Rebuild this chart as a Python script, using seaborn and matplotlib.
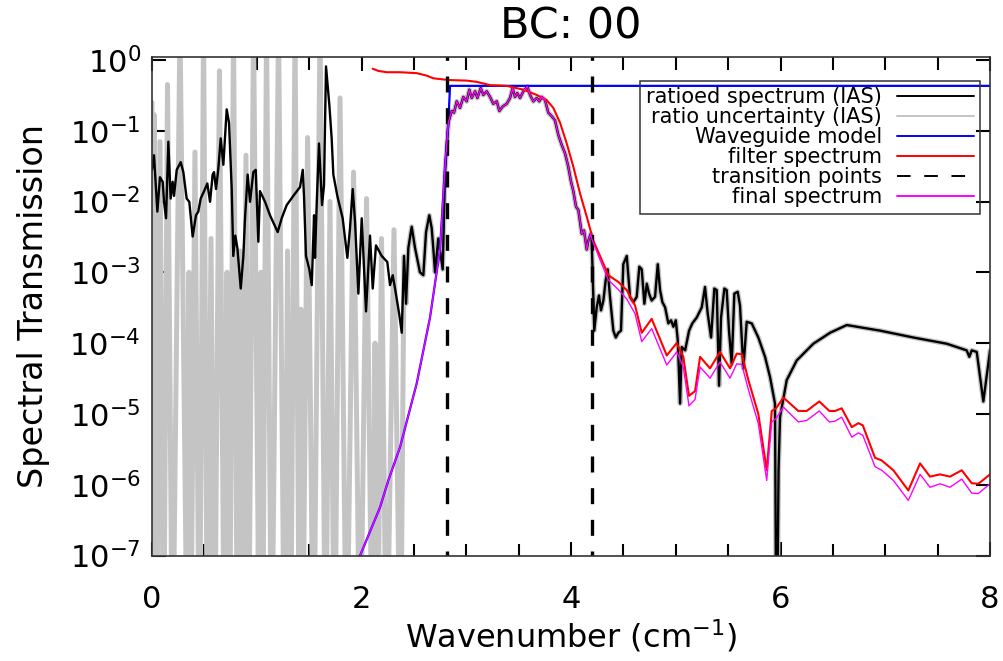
import matplotlib
matplotlib.use("Agg")
import numpy as np
import pandas as pd
import matplotlib.pyplot as plt
import seaborn as sns
from matplotlib.lines import Line2D
from matplotlib.ticker import MultipleLocator, LogLocator, NullLocator

# ---------------- data ----------------
# ratioed spectrum (IAS), below first transition point
ratio_left_x = [0.000, 0.019, 0.051, 0.076, 0.102, 0.115, 0.134, 0.156, 0.178, 0.197,
                0.210, 0.236, 0.274, 0.299, 0.331, 0.356, 0.388, 0.420, 0.442, 0.465,
                0.506, 0.528, 0.554, 0.579, 0.592, 0.611, 0.633, 0.656, 0.681, 0.713,
                0.735, 0.761, 0.776, 0.795, 0.815, 0.847, 0.872, 0.888, 0.913, 0.936,
                0.967, 0.990, 1.015, 1.031, 1.079, 1.126, 1.200, 1.238, 1.286, 1.349,
                1.413, 1.439, 1.451, 1.470, 1.502, 1.525, 1.547, 1.556, 1.572, 1.594,
                1.623, 1.642, 1.661, 1.693, 1.715, 1.731, 1.769, 1.820, 1.865, 1.890,
                1.916, 1.938, 1.970, 2.002, 2.043, 2.081, 2.107, 2.138, 2.193, 2.246,
                2.272, 2.298, 2.320, 2.361, 2.384, 2.406, 2.425, 2.447, 2.479, 2.511,
                2.558, 2.590, 2.616, 2.647, 2.670, 2.685, 2.702, 2.733, 2.775, 2.797]
ratio_left_y = [2.8e-2, 4.5e-2, 7.2e-3, 2.2e-2, 1.9e-2, 9.9e-3, 5.8e-3, 7.0e-2, 1.1e-2, 1.9e-2,
                1.2e-2, 2.8e-2, 3.6e-2, 2.6e-2, 1.1e-2, 9.9e-3, 3.2e-3, 6.4e-3, 7.2e-3, 1.1e-2,
                1.5e-2, 1.8e-2, 9.9e-3, 2.4e-2, 2.6e-2, 1.5e-2, 2.9e-2, 7.8e-2, 3.3e-2, 2.0e-1,
                1.3e-1, 1.5e-2, 1.7e-3, 3.3e-3, 2.2e-3, 5.9e-4, 1.7e-3, 5.8e-3, 2.4e-2, 9.9e-3,
                2.6e-2, 2.8e-2, 2.7e-3, 1.4e-2, 9.9e-3, 6.4e-3, 3.7e-3, 5.8e-3, 8.9e-3, 1.2e-2,
                1.6e-2, 2.8e-2, 1.2e-2, 1.7e-3, 1.1e-3, 6.6e-4, 6.4e-3, 1.6e-3, 8.9e-3, 6.6e-2,
                8.9e-3, 1.7e-2, 8.1e-1, 2.3e-1, 7.8e-2, 2.4e-2, 1.2e-2, 5.8e-3, 1.6e-3, 4.2e-3,
                1.5e-2, 5.2e-3, 5.0e-4, 5.8e-3, 2.8e-4, 3.3e-3, 5.9e-4, 2.4e-3, 1.7e-3, 1.4e-3,
                6.6e-4, 9.1e-4, 5.9e-4, 2.5e-4, 1.4e-4, 1.7e-3, 3.6e-4, 2.2e-3, 4.4e-3, 2.2e-3,
                1.0e-3, 9.1e-4, 3.7e-3, 6.4e-3, 4.2e-3, 2.2e-3, 1.0e-3, 3.0e-3, 1.1e-3, 2.6e-2]

# pass band between the two transition points (ratioed = final spectrum here)
band_x = [2.829, 2.861, 2.883, 2.909, 2.940, 2.972, 3.004, 3.029, 3.052, 3.084,
          3.106, 3.138, 3.163, 3.195, 3.227, 3.258, 3.291, 3.316, 3.348, 3.386,
          3.418, 3.443, 3.465, 3.487, 3.513, 3.545, 3.583, 3.609, 3.640, 3.673,
          3.697, 3.720, 3.752, 3.783, 3.816, 3.847, 3.879, 3.911, 3.943, 3.974,
          3.997, 4.022, 4.048, 4.070, 4.102, 4.124, 4.150, 4.165, 4.188]
band_y = [1.3e-1, 1.9e-1, 1.8e-1, 2.6e-1, 2.1e-1, 3.0e-1, 2.6e-1, 3.8e-1, 2.9e-1, 3.6e-1,
          2.9e-1, 4.0e-1, 3.2e-1, 3.6e-1, 3.0e-1, 2.4e-1, 2.6e-1, 1.9e-1, 2.2e-1, 2.4e-1,
          2.9e-1, 4.0e-1, 3.0e-1, 3.4e-1, 2.9e-1, 3.6e-1, 4.2e-1, 3.2e-1, 2.6e-1, 2.9e-1,
          2.6e-1, 3.0e-1, 2.7e-1, 1.8e-1, 1.6e-1, 1.4e-1, 8.7e-2, 6.3e-2, 4.8e-2, 3.1e-2,
          2.0e-2, 1.4e-2, 8.4e-3, 7.6e-3, 3.5e-3, 3.9e-3, 2.1e-3, 2.8e-3, 3.5e-3]

# ratioed spectrum above second transition point
ratio_right_x = [4.197, 4.222, 4.245, 4.267, 4.286, 4.309, 4.331, 4.350, 4.372, 4.404,
                 4.427, 4.452, 4.477, 4.499, 4.532, 4.563, 4.595, 4.627, 4.652, 4.675,
                 4.700, 4.723, 4.745, 4.770, 4.802, 4.828, 4.850, 4.872, 4.898, 4.929,
                 4.955, 4.977, 5.000, 5.019, 5.041, 5.057, 5.089, 5.127, 5.158, 5.200,
                 5.248, 5.279, 5.305, 5.337, 5.368, 5.391, 5.413, 5.432, 5.464, 5.486,
                 5.508, 5.534, 5.559, 5.591, 5.613, 5.645, 5.677, 5.725, 5.788, 5.852,
                 5.900, 5.947, 5.962, 5.981, 5.995, 6.059, 6.155, 6.313, 6.473, 6.632,
                 6.950, 7.268, 7.587, 7.777, 7.802, 7.825, 7.873, 7.936, 8.000]
ratio_right_y = [3.0e-3, 1.5e-4, 3.2e-4, 4.7e-4, 2.9e-4, 4.0e-4, 7.7e-4, 1.1e-3, 4.5e-4, 1.5e-4,
                 1.2e-4, 1.4e-4, 1.5e-4, 1.3e-3, 1.7e-3, 4.5e-4, 3.8e-4, 4.5e-4, 1.2e-3, 1.1e-3,
                 3.6e-4, 6.9e-4, 5.0e-4, 4.0e-4, 4.5e-4, 1.3e-3, 5.6e-4, 3.8e-4, 3.2e-4, 1.9e-4,
                 2.1e-4, 1.7e-4, 2.1e-4, 1.1e-4, 1.4e-5, 8.8e-5, 7.9e-5, 1.5e-4, 1.9e-4, 2.3e-4,
                 3.2e-4, 6.2e-4, 2.6e-4, 1.2e-4, 5.9e-4, 5.6e-4, 2.5e-5, 2.3e-4, 5.9e-4, 5.6e-4,
                 1.5e-4, 5.1e-5, 5.0e-4, 5.3e-4, 3.4e-4, 4.4e-5, 2.0e-4, 1.9e-4, 1.2e-4, 6.4e-5,
                 3.3e-5, 1.4e-5, 1.0e-9, 1.6e-6, 9.0e-6, 3.0e-5, 5.7e-5, 9.8e-5, 1.4e-4, 1.8e-4,
                 1.5e-4, 1.2e-4, 9.8e-5, 7.9e-5, 6.4e-5, 7.9e-5, 7.5e-5, 1.5e-5, 7.9e-5]

# ratio uncertainty (IAS) in the noisy low-wavenumber region (troughs fall below the axis)
unc_left_x = [0.000, 0.005, 0.019, 0.043, 0.076, 0.110, 0.148, 0.196, 0.267, 0.339,
              0.353, 0.368, 0.410, 0.453, 0.492, 0.530, 0.563, 0.597, 0.644, 0.692,
              0.716, 0.740, 0.778, 0.816, 0.840, 0.864, 0.897, 0.921, 0.969, 1.026,
              1.041, 1.055, 1.093, 1.141, 1.208, 1.265, 1.294, 1.322, 1.365, 1.408,
              1.422, 1.437, 1.485, 1.542, 1.604, 1.656, 1.699, 1.742, 1.795, 1.857,
              1.924, 1.986, 2.048, 2.105, 2.129, 2.153, 2.191, 2.239, 2.310, 2.372]
unc_left_y = [2.5e-1, 1e-9, 1.7e-1, 1e-9, 7.0e-2, 1e-9, 4.5e-1, 1e-9, 3.0, 1e-9,
              1.0e-3, 1e-9, 5.0e-2, 1e-9, 3.0, 1e-9, 3.0e-3, 1e-9, 7.0e-1, 1e-9,
              1.0e-3, 1e-9, 3.0, 1e-9, 2.0e-3, 1e-9, 4.5e-2, 1e-9, 3.0, 1e-9,
              1.0e-3, 1e-9, 3.0, 1e-9, 3.0, 1e-9, 2.0e-3, 1e-9, 3.0, 1e-9,
              3.0e-4, 1e-9, 8.0e-2, 1e-9, 3.0, 1e-9, 1.0e-2, 1e-9, 2.9e-1, 1e-9,
              2.6e-2, 1e-9, 1.1e-2, 1e-9, 1.0e-4, 1e-9, 3.0e-3, 1e-9, 4.0e-3, 1e-9]

# filter spectrum
filter_x = [2.107, 2.160, 2.241, 2.368, 2.527, 2.622, 2.685, 2.829, 3.004, 3.100,
            3.227, 3.386, 3.545, 3.673, 3.768, 3.831, 3.895, 3.959, 4.022, 4.086,
            4.150, 4.213, 4.277, 4.356, 4.452, 4.532, 4.611, 4.675, 4.770, 4.914,
            5.009, 5.072, 5.126, 5.184, 5.232, 5.327, 5.422, 5.518, 5.582, 5.630,
            5.693, 5.788, 5.868, 5.916, 5.957, 6.027, 6.170, 6.250, 6.370, 6.466,
            6.520, 6.584, 6.680, 6.743, 6.785, 6.902, 6.966, 7.077, 7.220, 7.332,
            7.427, 7.523, 7.618, 7.730, 7.825, 7.888, 8.000]
filter_y = [7.5e-1, 7.0e-1, 6.7e-1, 6.7e-1, 6.5e-1, 6.0e-1, 5.5e-1, 5.2e-1, 5.1e-1, 4.9e-1,
            4.4e-1, 4.3e-1, 3.8e-1, 3.2e-1, 2.7e-1, 2.1e-1, 1.3e-1, 6.6e-2, 3.1e-2, 1.3e-2,
            6.1e-3, 2.8e-3, 1.7e-3, 9.1e-4, 7.3e-4, 5.6e-4, 3.4e-4, 1.4e-4, 2.2e-4, 6.7e-5,
            1.0e-4, 6.4e-5, 1.8e-5, 2.1e-5, 6.4e-5, 4.4e-5, 7.5e-5, 4.4e-5, 7.1e-5, 7.0e-5,
            3.0e-5, 1.0e-5, 1.6e-6, 1.1e-5, 1.2e-5, 1.7e-5, 1.1e-5, 1.1e-5, 1.5e-5, 1.1e-5,
            1.1e-5, 1.2e-5, 6.5e-6, 7.4e-6, 6.9e-6, 2.4e-6, 2.2e-6, 1.6e-6, 8.3e-7, 2.0e-6,
            1.3e-6, 1.4e-6, 1.3e-6, 1.6e-6, 1.05e-6, 1.03e-6, 1.4e-6]

# waveguide model below cutoff (also used by the final spectrum there)
guide_left_x = [1.940, 1.979, 2.177, 2.256, 2.368, 2.527, 2.654, 2.749, 2.797, 2.829]
guide_left_y = [6.9e-8, 9.4e-8, 4.8e-7, 1.15e-6, 3.4e-6, 2.7e-5, 2.3e-4, 2.1e-3, 3.1e-2, 1.3e-1]
guide_top_x = [2.845, 8.000]
guide_top_y = [4.3e-1, 4.3e-1]

# final spectrum above second transition point
final_right_x = [4.197, 4.277, 4.356, 4.452, 4.532, 4.611, 4.675, 4.770, 4.914, 5.009,
                 5.072, 5.126, 5.184, 5.232, 5.327, 5.422, 5.518, 5.582, 5.630, 5.693,
                 5.788, 5.868, 5.916, 5.957, 6.027, 6.170, 6.250, 6.370, 6.466, 6.520,
                 6.584, 6.680, 6.743, 6.785, 6.902, 6.966, 7.077, 7.220, 7.332, 7.427,
                 7.523, 7.618, 7.730, 7.825, 7.888, 8.000]
final_right_y = [3.0e-3, 1.5e-3, 7.8e-4, 5.7e-4, 4.2e-4, 2.6e-4, 1.05e-4, 1.6e-4, 4.9e-5, 7.5e-5,
                 4.6e-5, 1.3e-5, 1.6e-5, 4.6e-5, 3.2e-5, 5.4e-5, 3.2e-5, 5.1e-5, 5.0e-5, 2.2e-5,
                 7.3e-6, 1.15e-6, 7.7e-6, 8.6e-6, 1.25e-5, 7.7e-6, 8.1e-6, 1.1e-5, 7.7e-6, 7.9e-6,
                 9.0e-6, 4.7e-6, 5.4e-6, 5.0e-6, 1.8e-6, 1.6e-6, 1.15e-6, 6.0e-7, 1.4e-6, 9.2e-7,
                 1.03e-6, 9.2e-7, 1.2e-6, 7.6e-7, 7.5e-7, 1.03e-6]

transition_points = [2.816, 4.200]

labels = ["ratioed spectrum (IAS)", "ratio uncertainty (IAS)", "Waveguide model",
          "filter spectrum", "transition points", "final spectrum"]
colors = ["black", "#c4c4c4", "#0000ff", "#ff0000", "black", "#ff00ff"]

# ---------------- assemble series ----------------
ratio_x = ratio_left_x + band_x + ratio_right_x
ratio_y = ratio_left_y + band_y + ratio_right_y
unc_x = unc_left_x + [x for x in ratio_x if x >= 2.40]
unc_y = unc_left_y + [y for x, y in zip(ratio_x, ratio_y) if x >= 2.40]
guide_x = guide_left_x + guide_top_x
guide_y = guide_left_y + guide_top_y
final_x = guide_left_x + band_x[1:] + final_right_x
final_y = guide_left_y + band_y[1:] + final_right_y

# ---------------- style ----------------
sns.set_theme(style="ticks")
frame_col = "#333333"
plt.rcParams.update({
    'font.family': ['DejaVu Sans'],
    'mathtext.fontset': 'dejavusans',
    'text.color': 'black', 'axes.labelcolor': 'black',
    'xtick.labelcolor': 'black', 'ytick.labelcolor': 'black',
})

fig = plt.figure(figsize=(10.04, 6.61), dpi=100)
ax = fig.add_axes([0.1514, 0.1596, 0.8347, 0.7542])
ax.set_yscale('log')

kw = dict(ax=ax, sort=False, estimator=None, legend=False)
sns.lineplot(x=unc_x, y=unc_y, color=colors[1], lw=3.6, **kw)
sns.lineplot(x=ratio_x, y=ratio_y, color=colors[0], lw=1.7, **kw)
sns.lineplot(x=guide_x, y=guide_y, color=colors[2], lw=1.6, **kw)
sns.lineplot(x=filter_x, y=filter_y, color=colors[3], lw=1.5, **kw)
for t in transition_points:
    sns.lineplot(x=[t, t], y=[1e-9, 10.0], color=colors[4], lw=2.4,
                 dashes=False, linestyle=(0, (4.8, 4.7)), **kw)
sns.lineplot(x=final_x, y=final_y, color=colors[5], lw=1.0, **kw)

ax.set_xlim(0, 8)
ax.set_ylim(1e-7, 1.10)
ax.xaxis.set_major_locator(MultipleLocator(2))
ax.xaxis.set_minor_locator(MultipleLocator(0.5))
ax.yaxis.set_major_locator(LogLocator(base=10, numticks=20))
ax.yaxis.set_minor_locator(NullLocator())

for s in ax.spines.values():
    s.set_visible(True)
    s.set_color(frame_col)
    s.set_linewidth(1.2)

# inward ticks on all four sides, IDL style
ax.tick_params(axis='both', which='both', direction='in',
               top=True, right=True, bottom=True, left=True,
               colors='black', width=1.5, labelsize=22)
ax.tick_params(axis='both', which='major', length=10)
ax.tick_params(axis='x', which='minor', length=9)
ax.tick_params(axis='x', which='both', pad=21)
ax.tick_params(axis='y', which='both', pad=8)
for t in ax.xaxis.get_major_ticks() + ax.xaxis.get_minor_ticks() + ax.yaxis.get_major_ticks():
    for ln in (t.tick1line, t.tick2line):
        ln.set_visible(True)
        ln.set_color('#222222')
        ln.set_zorder(10)

ax.set_title("BC: 00", fontsize=31, pad=13, color='black')
ax.set_xlabel("Wavenumber (cm$^{-1}$)", fontsize=23, labelpad=3, color='black')
ax.set_ylabel("Spectral Transmission", fontsize=24, labelpad=14, color='black')

handles = [Line2D([], [], color=colors[0], lw=1.4),
           Line2D([], [], color=colors[1], lw=1.4),
           Line2D([], [], color=colors[2], lw=1.4),
           Line2D([], [], color=colors[3], lw=1.4),
           Line2D([], [], color=colors[4], lw=1.4, linestyle=(0, (7, 7))),
           Line2D([], [], color=colors[5], lw=1.4)]
leg = ax.legend(handles, labels, loc='upper right',
                bbox_to_anchor=(980 / 1004, 1 - 81 / 661),
                bbox_transform=fig.transFigure, borderaxespad=0,
                fontsize=15, markerfirst=False, handlelength=3.7,
                handletextpad=0.7, labelspacing=0.0, borderpad=0.3,
                frameon=True, fancybox=False)
frame = leg.get_frame()
frame.set_facecolor('none')
frame.set_alpha(None)
frame.set_edgecolor(frame_col)
frame.set_linewidth(1.1)
for txt in leg.get_texts():
    txt.set_color('black')

fig.savefig("out.png", dpi=100)
